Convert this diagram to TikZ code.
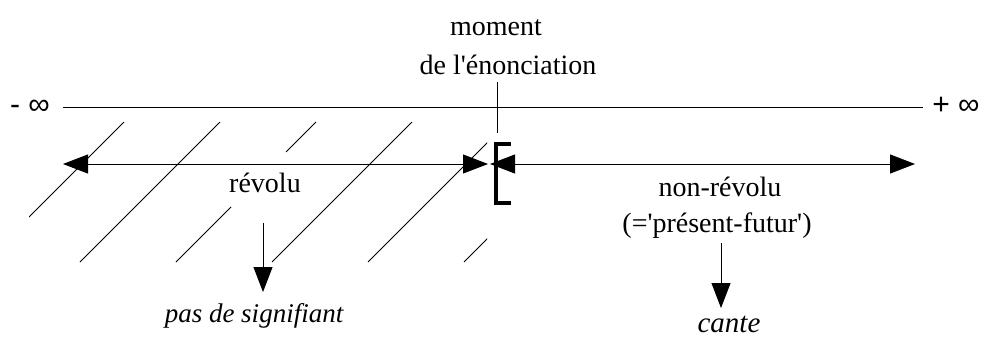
\documentclass[tikz,border=0pt]{standalone}
\usepackage{fontspec}
\setmainfont{Liberation Serif}[Ligatures=TeXOff]
\newfontfamily\symfont{Liberation Sans}[Ligatures=TeXOff]
\usetikzlibrary{arrows.meta}
\tikzset{
  thin line/.style={line width=0.9pt},
  bigarrow/.style={thin line, -{Triangle[length=25pt,width=19pt]}},
  bothbig/.style={thin line, {Triangle[length=25pt,width=19pt]}-{Triangle[length=25pt,width=19pt]}},
  hatch/.style={line width=0.8pt},
  lbl/.style={inner sep=0pt, anchor=base, font=\fontsize{28}{34}\selectfont},
  ilbl/.style={inner sep=0pt, anchor=base, font=\fontsize{27}{30}\selectfont\itshape},
  inf/.style={inner sep=0pt, anchor=base, font=\symfont\fontsize{30}{34}\selectfont}
}
\begin{document}
\begin{tikzpicture}[x=1pt,y=-1pt]
\useasboundingbox (0,0) rectangle (981,340);
% labels
\node[lbl] (moment) at (496,35) {moment};
\node[lbl] (enon) at (508,74) {de l'énonciation};
\node[inf] (minf) at (30,114) {- ∞};
\node[inf] (pinf) at (956,114) {+ ∞};
\node[lbl] (revolu) at (265,192) {révolu};
\node[lbl] (nonrev) at (720,196) {non-révolu};
\node[lbl] (presfut) at (717,232) {(='présent-futur')};
\node[ilbl] (pas) at (254,322) {pas de signifiant};
\node[ilbl, font=\fontsize{29}{32}\selectfont\itshape] (cante) at (729,332) {cante};
% axis
\coordinate (axL) at (63,107);
\coordinate (axR) at (923,107);
\draw[thin line] (axL) -- (axR);
\coordinate (tickT) at (497,82);
\coordinate (tickB) at (497,133);
\draw[thin line] (tickT) -- (tickB);
% hatching
\begin{scope}
\clip (29,122) rectangle (487,262);
\foreach \x in {124,220,412,508,604} \draw[hatch] (\x,122) -- ++(-140,140);
\end{scope}
\draw[hatch] (316,122) -- (286,152);
\draw[hatch] (231,207) -- (176,262);
% arrows
\coordinate (aL) at (63,164);
\coordinate (aM1) at (488,164);
\coordinate (aM2) at (490,164);
\coordinate (aR) at (915,164);
\draw[bothbig] (aL) -- (aM1);
\draw[bothbig] (aM2) -- (aR);
% bracket
\draw[line width=4.5pt, line cap=butt] (511,144) -- (496,144) -- (496,203) -- (511,203);
% down arrows
\coordinate (d1s) at (263,223);
\coordinate (d1e) at (263,292);
\draw[bigarrow] (d1s) -- (d1e);
\coordinate (d2s) at (721,243);
\coordinate (d2e) at (721,308);
\draw[bigarrow] (d2s) -- (d2e);
\end{tikzpicture}
\end{document}
